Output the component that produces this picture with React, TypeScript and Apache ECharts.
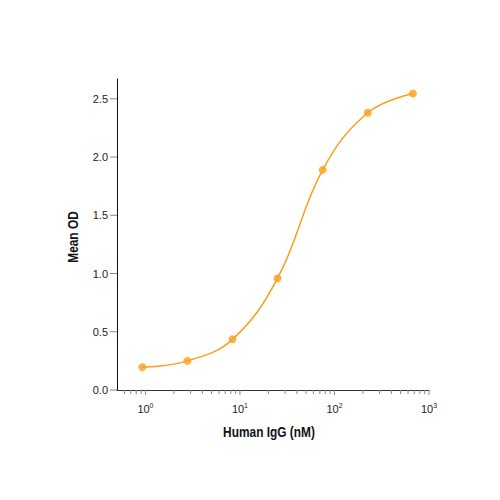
import React, { useEffect, useRef } from "react";
import * as echarts from "echarts";

const concentrations = [0.926, 2.78, 8.33, 25, 75, 225, 675];
const meanOD = [0.195, 0.25, 0.435, 0.96, 1.89, 2.38, 2.545];
const xMinorTicks = [
  0.6, 0.7, 0.8, 0.9,
  2, 3, 4, 5, 6, 7, 8, 9,
  20, 30, 40, 50, 60, 70, 80, 90,
  200, 300, 400, 500, 600, 700, 800, 900,
];
const xMajorTicks = [1, 10, 100, 1000];
const yTicks = [0, 0.5, 1.0, 1.5, 2.0, 2.5];
const xTitle = "Human IgG (nM)";
const yTitle = "Mean OD";

const ORANGE = "#F7A11A";
const TICK_FONT = "'Liberation Sans', Arial, sans-serif";
const TITLE_FONT = "'Liberation Sans', Arial, sans-serif";

export default function App() {
  const ref = useRef<HTMLDivElement>(null);

  useEffect(() => {
    if (!ref.current) return;
    const chart = echarts.init(ref.current, undefined, { renderer: "svg" });
    const pts = concentrations.map((c, i) => [c, meanOD[i]]);

    const xTickSeries = (ticks: number[], len: number) => ({
      type: "custom",
      silent: true,
      clip: false,
      z: 5,
      data: ticks.map((t) => [t, 0]),
      encode: { x: 0, y: 1 },
      renderItem: (params: any, api: any) => {
        const p = api.coord([api.value(0), 0]);
        return {
          type: "line",
          shape: { x1: p[0], y1: p[1], x2: p[0], y2: p[1] + len },
          style: { stroke: "#888", lineWidth: 1 },
        };
      },
    });

    chart.setOption({
      animation: false,
      backgroundColor: "#fff",
      grid: { left: 117, right: 71, top: 79, bottom: 110 },
      graphic: [
        {
          type: "text",
          x: 269,
          y: 432,
          scaleX: 0.85,
          style: {
            text: xTitle,
            font: "bold 14px " + TITLE_FONT,
            fill: "#111",
            align: "center",
            verticalAlign: "middle",
          },
        },
        {
          type: "text",
          x: 73,
          y: 237,
          rotation: Math.PI / 2,
          scaleX: 0.85,
          style: {
            text: yTitle,
            font: "bold 14px " + TITLE_FONT,
            fill: "#111",
            align: "center",
            verticalAlign: "middle",
          },
        },
      ],
      xAxis: {
        type: "log",
        logBase: 10,
        min: 0.5,
        max: 1000,
        axisLine: { show: true, lineStyle: { color: "#333", width: 1 } },
        axisTick: { show: false },
        splitLine: { show: false },
        axisLabel: {
          margin: 12,
          formatter: (v: number) => {
            const e = Math.log10(v);
            const r = Math.round(e);
            if (Math.abs(e - r) > 1e-6) return "";
            return "{b|10}{s|" + String(r) + "}";
          },
          rich: {
            b: { fontFamily: TICK_FONT, fontSize: 11, color: "#222", lineHeight: 14 },
            s: { fontFamily: TICK_FONT, fontSize: 7, color: "#222", lineHeight: 14, verticalAlign: "top", padding: [0, 0, 6, 0] },
          },
        },
      },
      yAxis: {
        type: "value",
        min: 0,
        max: 2.67,
        interval: 0.5,
        axisLine: { show: true, lineStyle: { color: "#111", width: 1 } },
        axisTick: { show: false },
        splitLine: { show: false },
        axisLabel: {
          margin: 9,
          showMaxLabel: false,
          fontFamily: TICK_FONT,
          fontSize: 11,
          color: "#222",
          formatter: (v: number) => v.toFixed(1),
        },
      },
      series: [
        {
          type: "line",
          data: pts,
          smooth: 0.4,
          symbol: "none",
          lineStyle: { color: ORANGE, width: 1.5 },
          z: 3,
        },
        {
          type: "scatter",
          data: pts,
          symbolSize: 8,
          itemStyle: { color: ORANGE },
          z: 4,
        },
        xTickSeries(xMinorTicks, 4),
        xTickSeries(xMajorTicks, 5),
        {
          type: "custom",
          silent: true,
          clip: false,
          z: 5,
          data: yTicks.map((t) => [0.5, t]),
          encode: { x: 0, y: 1 },
          renderItem: (params: any, api: any) => {
            const p = api.coord([0.5, api.value(1)]);
            return {
              type: "line",
              shape: { x1: p[0] - 7, y1: p[1], x2: p[0], y2: p[1] },
              style: { stroke: "#888", lineWidth: 1 },
            };
          },
        },
      ],
    });
    return () => chart.dispose();
  }, []);

  return (
    <div
      ref={ref}
      style={{ position: "fixed", left: 0, top: 0, width: 500, height: 500 }}
    />
  );
}
